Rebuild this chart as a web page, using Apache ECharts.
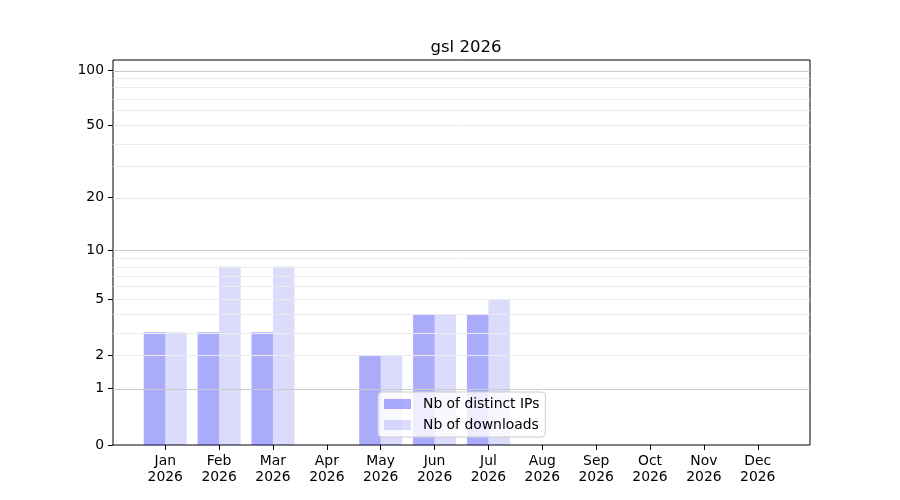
<!DOCTYPE html>
<html>
<head>
<meta charset="utf-8">
<script src="https://cdn.jsdelivr.net/npm/echarts@6/dist/echarts.min.js"></script>
<style>
html, body { margin: 0; padding: 0; background: #fff; }
#chart1 { width: 900px; height: 500px; }
</style>
</head>
<body>
<div id="chart1"></div>
<script>
// data
var months = ['Jan', 'Feb', 'Mar', 'Apr', 'May', 'Jun', 'Jul', 'Aug', 'Sep', 'Oct', 'Nov', 'Dec'];
var year = '2026';
var distinctIPs = [3, 3, 3, 0, 2, 4, 4, 0, 0, 0, 0, 0];
var downloads = [3, 8, 8, 0, 2, 4, 5, 0, 0, 0, 0, 0];
var yTicks = [0, 1, 2, 5, 10, 20, 50, 100];
var majorGrid = [1, 10, 100];
var minorGrid = [2, 3, 4, 5, 6, 7, 8, 9, 20, 30, 40, 50, 60, 70, 80, 90];

// y scale: log10(1 + v)
function sl(v) { return Math.log10(1 + v); }
function unsl(t) { return Math.round(Math.pow(10, t) - 1); }

var myChart = echarts.init(document.getElementById('chart1'));
var font = 'DejaVu Sans';

var gridLines = [];
majorGrid.forEach(function (v) {
	gridLines.push({ yAxis: sl(v), lineStyle: { color: '#cbcbcb', width: 1, type: 'solid' } });
});
minorGrid.forEach(function (v) {
	gridLines.push({ yAxis: sl(v), lineStyle: { color: '#ebebeb', width: 1, type: 'solid' } });
});

var monthIdx = months.map(function (m, i) { return i; });

var option = {
	animation: false,
	textStyle: { fontFamily: font },
	title: {
		text: 'gsl ' + year,
		left: 461,
		textAlign: 'center',
		top: 34,
		textStyle: { fontFamily: font, fontSize: 16.5, fontWeight: 'normal', color: '#000' }
	},
	grid: {
		left: 113, right: 90, top: 60, bottom: 55,
		show: true, borderColor: '#000', borderWidth: 1, backgroundColor: 'transparent'
	},
	legend: {
		orient: 'vertical',
		left: 378,
		top: 392,
		padding: [5, 6, 5, 6],
		itemGap: 7,
		itemWidth: 27,
		itemHeight: 10,
		icon: 'rect',
		backgroundColor: 'rgba(255,255,255,0.8)',
		borderColor: '#cccccc',
		borderWidth: 1,
		borderRadius: 4,
		textStyle: { fontFamily: font, fontSize: 13.9, color: '#000', padding: [0, 0, 0, 7] },
		data: ['Nb of distinct IPs', 'Nb of downloads']
	},
	xAxis: {
		type: 'value',
		min: -0.97,
		max: 11.97,
		splitLine: { show: false },
		axisLine: { show: false, onZero: false },
		axisTick: { show: true, length: 5, customValues: monthIdx, lineStyle: { color: '#000' } },
		axisLabel: {
			customValues: monthIdx,
			margin: 8,
			fontFamily: font,
			fontSize: 13.9,
			lineHeight: 16,
			color: '#000',
			formatter: function (v) { return months[Math.round(v)] + '\n' + year; }
		}
	},
	yAxis: {
		type: 'value',
		min: 0,
		max: 2.058,
		splitLine: { show: false },
		axisLine: { show: false, onZero: false },
		axisTick: { show: true, length: 5, customValues: yTicks.map(sl), lineStyle: { color: '#000' } },
		axisLabel: {
			customValues: yTicks.map(sl),
			margin: 9,
			fontFamily: font,
			fontSize: 13.9,
			color: '#000',
			formatter: function (v) { return String(unsl(v)); }
		}
	},
	series: [
		{
			name: 'Nb of distinct IPs',
			type: 'bar',
			barWidth: 21.5,
			barGap: '0%',
			itemStyle: { color: 'rgba(0,0,245,0.33)' },
			z: 2,
			data: distinctIPs.map(function (v, i) { return [i, sl(v)]; })
		},
		{
			name: 'Nb of downloads',
			type: 'bar',
			barWidth: 21.5,
			barGap: '0%',
			itemStyle: { color: 'rgba(0,0,235,0.14)' },
			z: 2,
			data: downloads.map(function (v, i) { return [i, sl(v)]; })
		},
		{
			// gridlines
			name: 'grid',
			type: 'line',
			data: [],
			z: 3,
			silent: true,
			markLine: {
				silent: true,
				symbol: ['none', 'none'],
				label: { show: false },
				animation: false,
				data: gridLines
			}
		}
	]
};
myChart.setOption(option);
</script>
</body>
</html>
